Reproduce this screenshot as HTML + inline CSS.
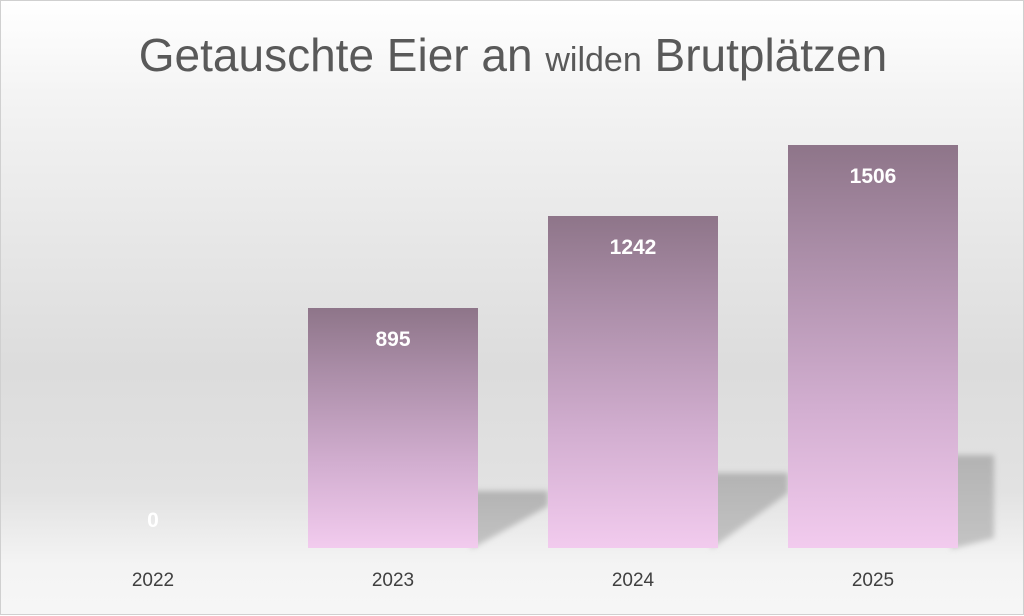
<!DOCTYPE html>
<html><head><meta charset="utf-8"><style>
body{margin:0;width:1024px;height:615px;overflow:hidden;font-family:"Liberation Sans",sans-serif}
#c{position:absolute;left:0;top:0;width:1022px;height:613px;border:1px solid #d0d0d0;
background:linear-gradient(#ffffff 0%,#f2f2f2 18%,#dcdcdc 60%,#e2e2e2 80%,#f4f4f4 92%,#f6f6f6 100%)}
.t{position:absolute;top:27px;left:0;width:1024px;text-align:center;color:#595959;font-size:46px;white-space:nowrap}
.t small{font-size:34px}
.bar{position:absolute;width:170px;bottom:66px;background:linear-gradient(#8e7589,#a98ca6 25%,#d2aed0 65%,#f2cbee)}
.v{position:absolute;width:100%;text-align:center;color:#fff;font-weight:bold;font-size:21px;top:20px}
.y{position:absolute;top:569px;width:170px;text-align:center;color:#404040;font-size:19px}
</style></head><body><div id="c">
<div class="t">Getauschte Eier an <small>wilden</small> Brutplätzen</div>
<svg style="position:absolute;left:0;top:0" width="1024" height="615">
<defs><filter id="b"><feGaussianBlur stdDeviation="3"/></filter>
<linearGradient id="g" x1="0" y1="0" x2="0" y2="1"><stop offset="0" stop-color="#b3b3b3"/><stop offset="1" stop-color="#c4c4c4"/></linearGradient></defs>
<g filter="url(#b)" fill="url(#g)">
<polygon points="470,490 547,490 547,505 470,548"/>
<polygon points="710,472 787,472 787,492 710,548"/>
<polygon points="950,454 993,454 993,537 950,548"/>
</g></svg>
<div class="bar" style="left:307px;height:240px"><div class="v">895</div></div>
<div class="bar" style="left:547px;height:332px"><div class="v">1242</div></div>
<div class="bar" style="left:787px;height:403px"><div class="v">1506</div></div>
<div style="position:absolute;left:67px;top:508px;width:170px;text-align:center;color:#fff;font-weight:bold;font-size:21px">0</div>
<div class="y" style="left:67px">2022</div>
<div class="y" style="left:307px">2023</div>
<div class="y" style="left:547px">2024</div>
<div class="y" style="left:787px">2025</div>
</div></body></html>
